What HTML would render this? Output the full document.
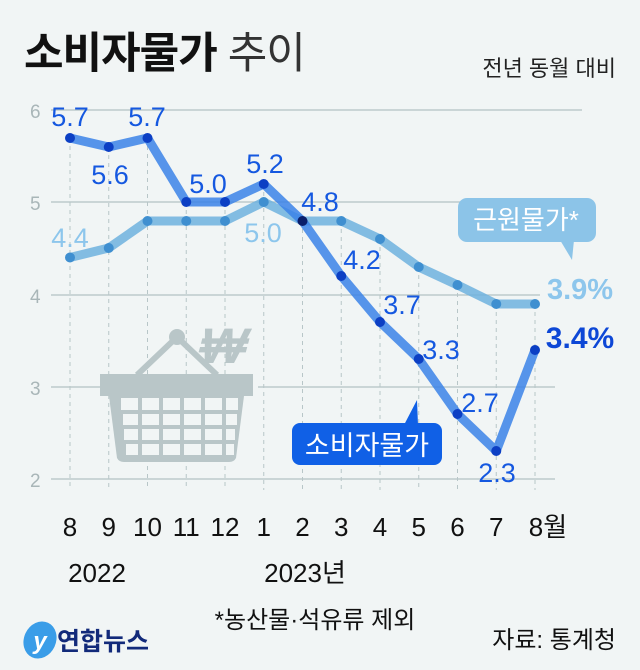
<!DOCTYPE html><html><head><meta charset="utf-8"><style>
body{margin:0;background:#f1f5f5;}
svg{display:block;font-family:"Liberation Sans","Noto Sans CJK KR",sans-serif;}
</style></head><body>
<svg width="640" height="670" viewBox="0 0 640 670">
<rect width="640" height="670" fill="#f1f5f5"/>
<text x="24" y="68" font-size="43" font-weight="bold" fill="#111" letter-spacing="-1">소비자물가 <tspan font-weight="normal" fill="#333">추이</tspan></text>
<text x="616" y="76" font-size="22" fill="#222" text-anchor="end">전년 동월 대비</text>
<g stroke="#b4c2c4" stroke-width="1.3">
<line x1="51" y1="110" x2="582" y2="110"/><line x1="51" y1="202" x2="582" y2="202"/>
<line x1="51" y1="295" x2="540" y2="295"/><line x1="51" y1="387" x2="100" y2="387"/><line x1="258" y1="387" x2="555" y2="387"/>
<line x1="51" y1="479" x2="555" y2="479"/></g>
<g fill="#a9b6b8" font-size="19"><text x="30" y="118">6</text><text x="30" y="210">5</text><text x="30" y="303">4</text><text x="30" y="395">3</text><text x="30" y="487">2</text></g>
<g stroke="#b8c6c8" stroke-width="1" stroke-dasharray="4,4">
<line x1="70" y1="138" x2="70" y2="490"/><line x1="108.75" y1="147" x2="108.75" y2="490"/><line x1="147.5" y1="138" x2="147.5" y2="490"/><line x1="186.25" y1="202" x2="186.25" y2="490"/><line x1="225" y1="202" x2="225" y2="490"/><line x1="263.75" y1="184" x2="263.75" y2="490"/><line x1="302.5" y1="221" x2="302.5" y2="490"/><line x1="341.25" y1="221" x2="341.25" y2="490"/><line x1="380" y1="239" x2="380" y2="490"/><line x1="418.75" y1="267" x2="418.75" y2="490"/><line x1="457.5" y1="285" x2="457.5" y2="490"/><line x1="496.25" y1="304" x2="496.25" y2="490"/><line x1="535" y1="304" x2="535" y2="490"/></g>
<!-- basket -->
<g fill="#b9c6c8">
<circle cx="177" cy="337" r="8"/>
<path d="M177 337 L137 375 M177 337 L217 375" stroke="#b9c6c8" stroke-width="6"/>
<rect x="100" y="374" width="153" height="22"/>
<path d="M109 396 H244 L236 458 Q234 462 229 462 H124 Q119 462 117 458 Z"/>
<text x="203" y="363" font-size="50" font-weight="bold" transform="skewX(-15) translate(90 0)">₩</text>
</g>
<g fill="#f1f5f5"><rect x="121" y="398" width="17" height="12"/><rect x="142" y="398" width="17" height="12"/><rect x="163" y="398" width="17" height="12"/><rect x="184" y="398" width="17" height="12"/><rect x="205" y="398" width="17" height="12"/><rect x="226" y="398" width="12" height="12"/>
<rect x="123" y="414" width="15" height="11"/><rect x="142" y="414" width="17" height="11"/><rect x="163" y="414" width="17" height="11"/><rect x="184" y="414" width="17" height="11"/><rect x="205" y="414" width="17" height="11"/><rect x="226" y="414" width="11" height="11"/>
<rect x="124" y="429" width="14" height="11"/><rect x="142" y="429" width="17" height="11"/><rect x="163" y="429" width="17" height="11"/><rect x="184" y="429" width="17" height="11"/><rect x="205" y="429" width="17" height="11"/><rect x="226" y="429" width="9" height="11"/>
<rect x="126" y="444" width="12" height="11"/><rect x="142" y="444" width="17" height="11"/><rect x="163" y="444" width="17" height="11"/><rect x="184" y="444" width="17" height="11"/><rect x="205" y="444" width="17" height="11"/><rect x="226" y="444" width="8" height="11"/></g>
<!-- core -->
<polyline fill="none" stroke="#6fb2de" stroke-opacity="0.85" stroke-width="9" stroke-linejoin="round" points="70,257.5 108.75,248 147.5,221 186.25,221 225,221 263.75,202 302.5,221 341.25,221 380,239 418.75,267 457.5,285 496.25,304 535,304"/>
<g fill="#3f8fd0"><circle cx="70" cy="257.5" r="5"/><circle cx="108.75" cy="248" r="5"/><circle cx="147.5" cy="221" r="5"/><circle cx="186.25" cy="221" r="5"/><circle cx="225" cy="221" r="5"/><circle cx="263.75" cy="202" r="5"/><circle cx="341.25" cy="221" r="5"/><circle cx="380" cy="239" r="5"/><circle cx="418.75" cy="267" r="5"/><circle cx="457.5" cy="285" r="5"/><circle cx="496.25" cy="304" r="5"/><circle cx="535" cy="304" r="5"/></g>
<!-- main -->
<polyline fill="none" stroke="#3b82e8" stroke-opacity="0.85" stroke-width="9" stroke-linejoin="round" points="70,138 108.75,147 147.5,138 186.25,202 225,202 263.75,184 302.5,221 341.25,276 380,322 418.75,359 457.5,414 496.25,451 535,350"/>
<g fill="#0c3fc4"><circle cx="70" cy="138" r="5"/><circle cx="108.75" cy="147" r="5"/><circle cx="147.5" cy="138" r="5"/><circle cx="186.25" cy="202" r="5"/><circle cx="225" cy="202" r="5"/><circle cx="263.75" cy="184" r="5"/><circle cx="302.5" cy="221" r="5" fill="#0a1e6a"/><circle cx="341.25" cy="276" r="5"/><circle cx="380" cy="322" r="5"/><circle cx="418.75" cy="359" r="5"/><circle cx="457.5" cy="414" r="5"/><circle cx="496.25" cy="451" r="5"/><circle cx="535" cy="350" r="5"/></g>
<g fill="#8dc6ec" font-size="27" text-anchor="middle"><text x="70" y="247">4.4</text><text x="263" y="242">5.0</text><text x="580" y="299" font-weight="bold" font-size="29">3.9%</text></g>
<g fill="#1558e0" font-size="27" text-anchor="middle"><text x="70" y="126">5.7</text><text x="110" y="184">5.6</text><text x="147" y="126">5.7</text><text x="208" y="193">5.0</text><text x="265" y="173">5.2</text><text x="320" y="211">4.8</text><text x="362" y="269">4.2</text><text x="402" y="314">3.7</text><text x="441" y="359">3.3</text><text x="480" y="412">2.7</text><text x="497" y="482">2.3</text><text x="580" y="348" font-weight="bold" font-size="30" fill="#0d47d6">3.4%</text></g>
<!-- bubbles -->
<rect x="458" y="198" width="138" height="44" rx="9" fill="#8cc4e8"/><path d="M560 240 L572 260 L574 240Z" fill="#8cc4e8"/>
<text x="526" y="229" font-size="26" fill="#fff" text-anchor="middle">근원물가*</text>
<rect x="292" y="423" width="150" height="42" rx="8" fill="#1060e6"/><path d="M404 425 L417 400 L418 425Z" fill="#1060e6"/>
<text x="367" y="455" font-size="27" fill="#fff" text-anchor="middle">소비자물가</text>
<g fill="#111" font-size="26" text-anchor="middle"><text x="70" y="536">8</text><text x="108.75" y="536">9</text><text x="147.5" y="536">10</text><text x="186.25" y="536">11</text><text x="225" y="536">12</text><text x="263.75" y="536">1</text><text x="302.5" y="536">2</text><text x="341.25" y="536">3</text><text x="380" y="536">4</text><text x="418.75" y="536">5</text><text x="457.5" y="536">6</text><text x="496.25" y="536">7</text><text x="548" y="536">8월</text>
<text x="97" y="582">2022</text><text x="305" y="582">2023년</text></g>
<text x="315" y="628" font-size="24" fill="#111" text-anchor="middle">*농산물·석유류 제외</text>
<text x="616" y="648" font-size="24" fill="#111" text-anchor="end">자료: 통계청</text>
<ellipse cx="40" cy="640" rx="16" ry="19" fill="#3a9de8" transform="rotate(25 40 640)"/>
<text x="40" y="649" font-size="24" font-style="italic" font-weight="bold" fill="#fff" text-anchor="middle">y</text>
<text x="57" y="650" font-size="25" font-weight="bold" fill="#122a7a">연합뉴스</text>
</svg></body></html>
